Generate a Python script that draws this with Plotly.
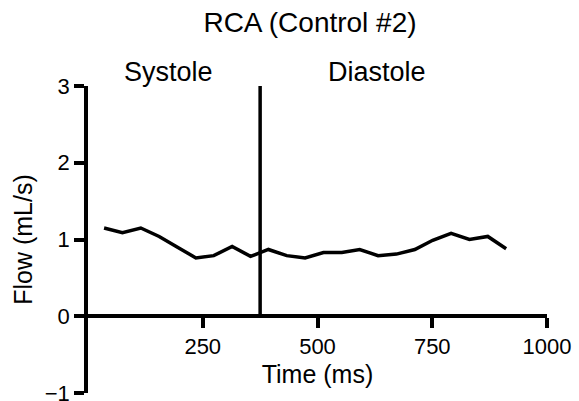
import plotly.graph_objects as go

time_ms = [35, 75, 115, 155, 195, 235, 274, 314, 354, 393, 433, 473, 513, 553, 592, 632, 672, 712, 751, 791, 831, 871, 911]
flow = [1.15, 1.09, 1.15, 1.04, 0.90, 0.76, 0.79, 0.91, 0.78, 0.87, 0.79, 0.76, 0.83, 0.83, 0.87, 0.79, 0.81, 0.87, 0.99, 1.08, 1.00, 1.04, 0.88]
divider_x = [375, 375]
divider_y = [0, 3]
x_ticks = [250, 500, 750, 1000]
y_ticks = [-1, 0, 1, 2, 3]
y_tick_labels = ["\u22121", "0", "1", "2", "3"]
phase_labels = ["Systole", "Diastole"]
phase_label_x = [175, 630]

FONT = "Liberation Sans, Arial, sans-serif"
W, H = 579, 401
L, R, T, B = 88, 32, 86, 8
ph = H - T - B

fig = go.Figure()
fig.add_trace(go.Scatter(x=time_ms, y=flow, mode="lines",
                         line=dict(color="black", width=3.5), showlegend=False))
fig.add_trace(go.Scatter(x=divider_x, y=divider_y, mode="lines",
                         line=dict(color="black", width=3.5), showlegend=False, cliponaxis=False))

for lab, lx in zip(phase_labels, phase_label_x):
    fig.add_annotation(x=lx, y=1 + (T - 72) / ph, xref="x", yref="paper",
                       text=lab, showarrow=False, xanchor="center", yanchor="middle",
                       font=dict(family=FONT, size=27, color="black"))

fig.update_layout(
    width=W, height=H,
    margin=dict(l=L, r=R, t=T, b=B, autoexpand=False),
    paper_bgcolor="white", plot_bgcolor="white",
    title=dict(text="RCA (Control #2)", x=310 / W, xanchor="center", xref="container",
               y=1 - 22 / H, yanchor="middle", yref="container",
               font=dict(family=FONT, size=28, color="black")),
    font=dict(family=FONT, color="black"),
    xaxis=dict(range=[0, 1000], tickvals=x_ticks, showline=True, linecolor="black", linewidth=3.5,
               ticks="outside", ticklen=10, tickwidth=3.5, tickcolor="black",
               showgrid=False, zeroline=False, anchor="free", position=0.25, automargin=False,
               tickfont=dict(size=22, family=FONT, color="black"),
               title=dict(text="Time (ms)", font=dict(size=25, family=FONT, color="black"), standoff=6)),
    yaxis=dict(range=[-1, 3], tickvals=y_ticks, ticktext=y_tick_labels,
               showline=True, linecolor="black", linewidth=3.5,
               ticks="outside", ticklen=10, tickwidth=3.5, tickcolor="black",
               showgrid=False, zeroline=False, ticklabeloverflow="allow", automargin=False,
               tickfont=dict(size=22, family=FONT, color="black"),
               title=dict(text="Flow (mL/s)", font=dict(size=25, family=FONT, color="black"), standoff=6)),
)

fig.write_html("out.html")
